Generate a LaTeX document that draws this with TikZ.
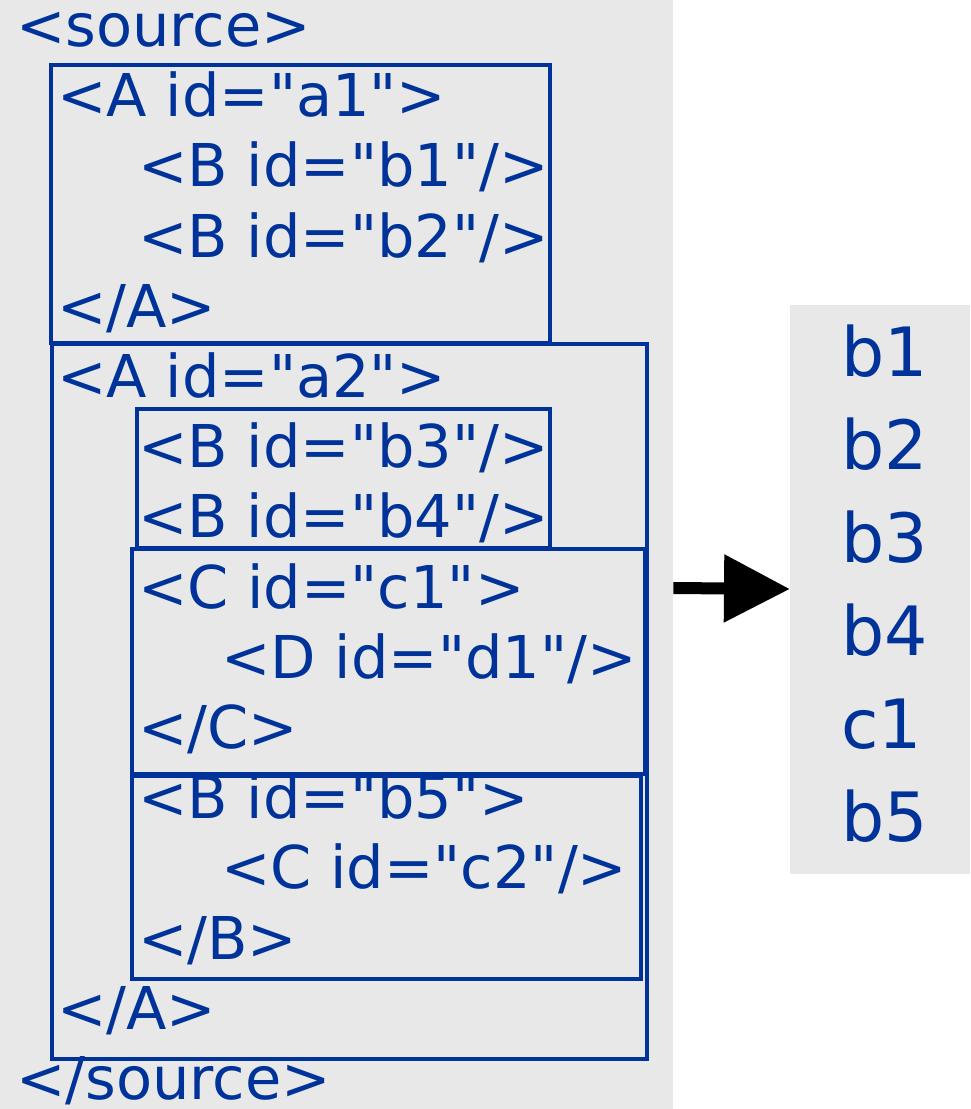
\documentclass[tikz,border=0pt]{standalone}
\usepackage{fontspec}
\setmainfont{DejaVu Sans}[Ligatures=TeXOff]
\usetikzlibrary{arrows.meta}
\definecolor{txtblue}{HTML}{003399}
\definecolor{panelgray}{HTML}{E8E8E8}
\begin{document}
\begin{tikzpicture}[x=1pt,y=-1pt,
  code/.style={anchor=base west, inner sep=0pt, text=txtblue, font=\fontsize{59}{70}\selectfont},
  reslabel/.style={anchor=base west, inner sep=0pt, text=txtblue, font=\fontsize{68}{80}\selectfont},
  frame/.style={draw=txtblue, line width=3.5pt},
  panel/.style={fill=panelgray, draw=none, inner sep=0pt, anchor=north west}]
\useasboundingbox (0,0) rectangle (970,1109);
\node[panel, minimum width=673pt, minimum height=1109pt] (src) at (0,0) {};
\node[panel, minimum width=180pt, minimum height=569pt] (res) at (790,305) {};
% frames
\draw[frame] (51,65) rectangle (550,343);
\draw[frame] (52,344) rectangle (647,1059);
\draw[frame] (137,409) rectangle (550,548);
\draw[frame] (132,549) rectangle (645,774);
\draw[frame] (132,776) rectangle (641,979);
% code lines
\node[code] (l0) at (16,46) {<source>};
\node[code] (l1) at (57,116) {<A id="a1">};
\node[code] (l2) at (138,186) {<B id="b1"/>};
\node[code] (l3) at (138,257) {<B id="b2"/>};
\node[code] (l4) at (57,327) {</A>};
\node[code] (l5) at (57,397) {<A id="a2">};
\node[code] (l6) at (138,467) {<B id="b3"/>};
\node[code] (l7) at (138,537) {<B id="b4"/>};
\node[code] (l8) at (138,608) {<C id="c1">};
\node[code] (l9) at (221,678) {<D id="d1"/>};
\node[code] (l10) at (138,748) {</C>};
\node[code] (l11) at (138,818) {<B id="b5">};
\node[code] (l12) at (221,888) {<C id="c2"/>};
\node[code] (l13) at (138,959) {</B>};
\node[code] (l14) at (57,1029) {</A>};
\node[code] (l15) at (16,1099) {</source>};
% result
\node[reslabel] (r1) at (841,376) {b1};
\node[reslabel] (r2) at (841,469) {b2};
\node[reslabel] (r3) at (841,562) {b3};
\node[reslabel] (r4) at (841,655) {b4};
\node[reslabel] (r5) at (841,748) {c1};
\node[reslabel] (r6) at (841,841) {b5};
% arrow
\coordinate (as) at (src.east |- 0,588);
\coordinate (ae) at (res.west |- 0,589);
\draw[line width=12pt, -{Triangle[length=66pt, width=65pt]}] (as) -- (ae);
\end{tikzpicture}
\end{document}
